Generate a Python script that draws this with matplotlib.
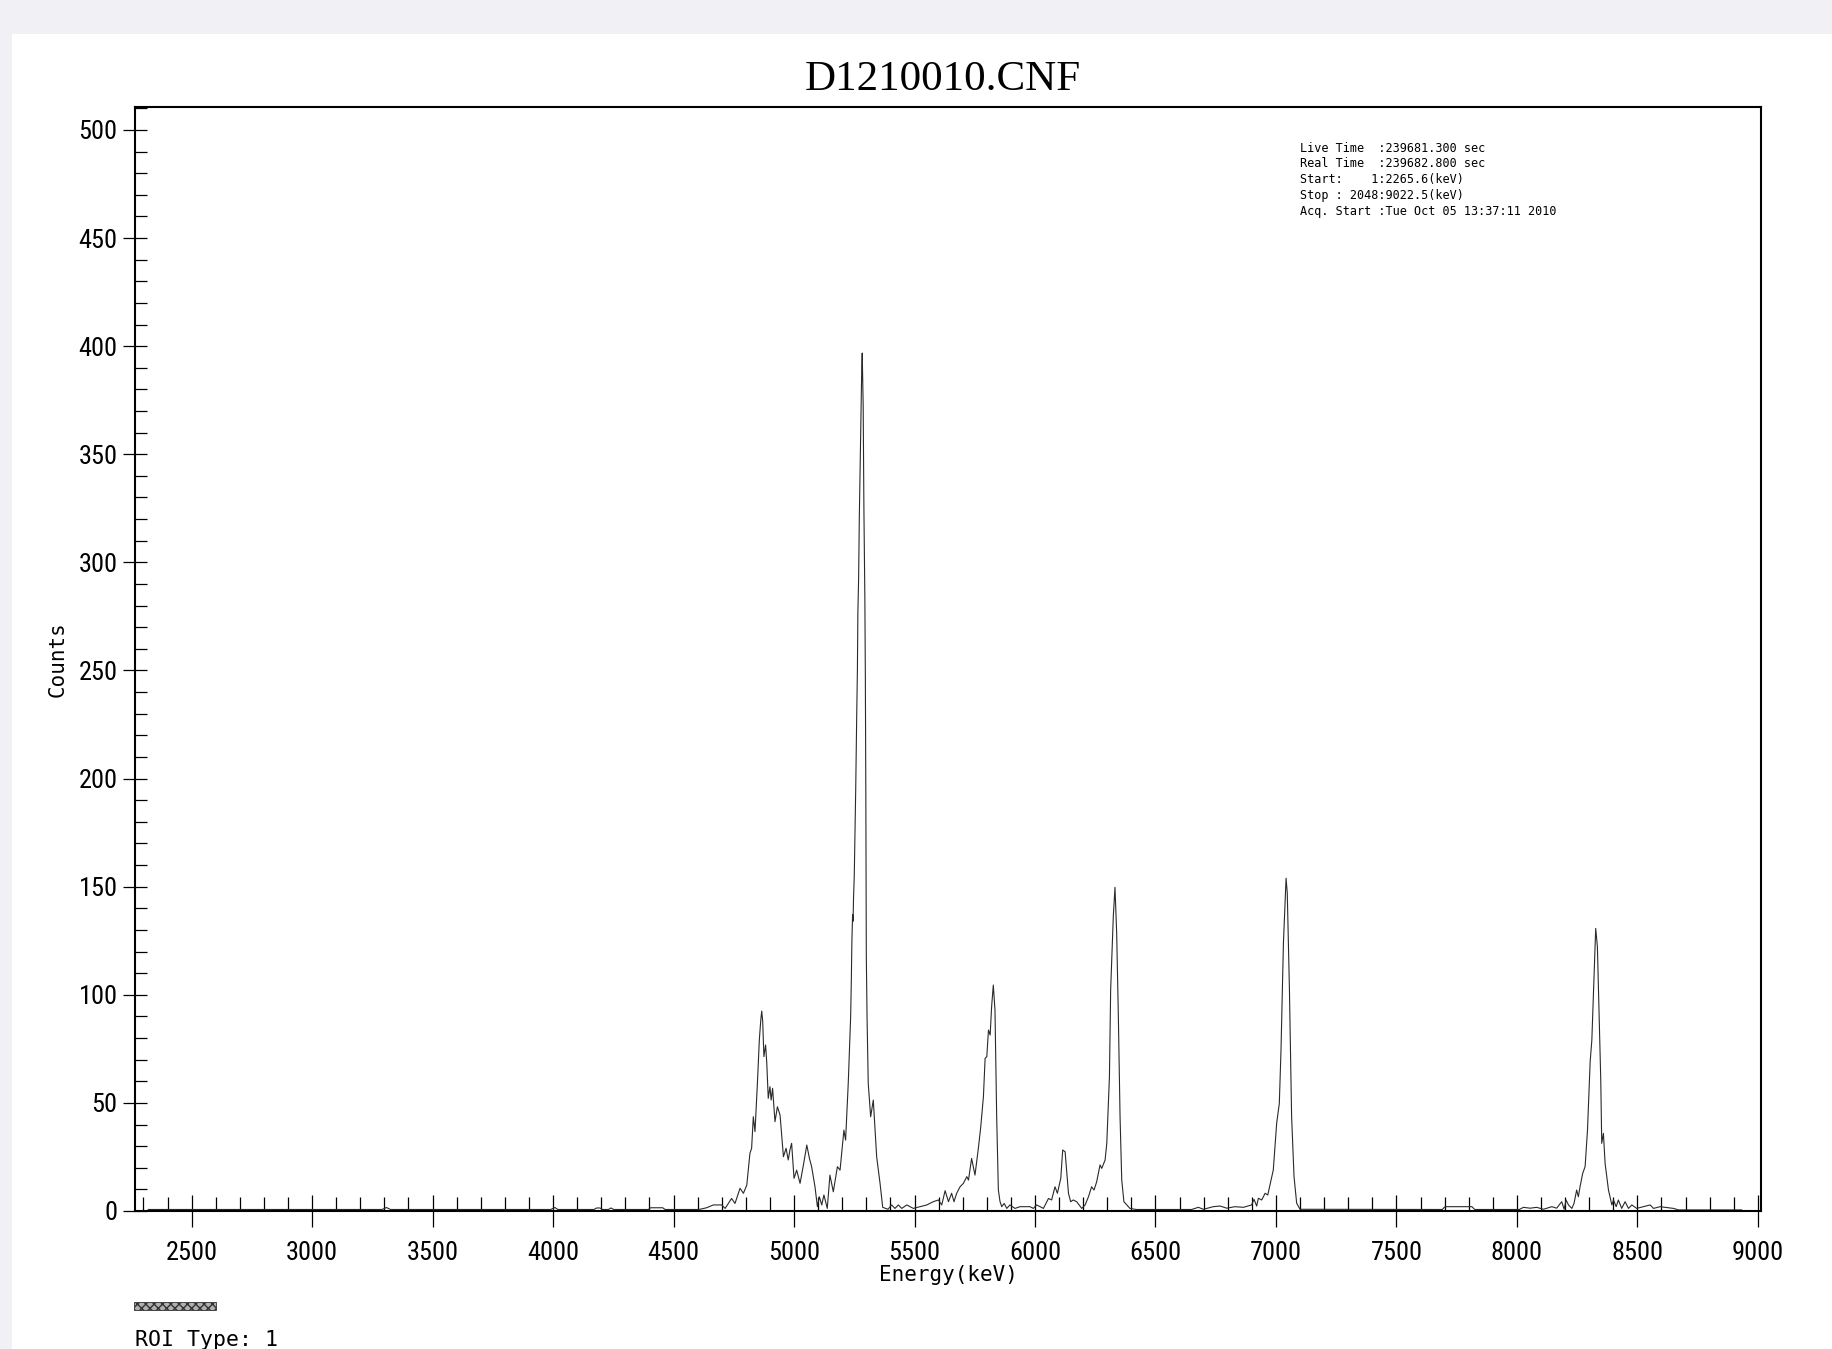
import numpy as np
import matplotlib
matplotlib.use("Agg")
import matplotlib.pyplot as plt
from matplotlib import font_manager
from matplotlib.ticker import MultipleLocator
from matplotlib.patches import Rectangle

# spectrum: energy (keV) and counts
energy = [2320, 3290, 3309, 3325, 3990, 4008, 4020, 4170, 4181, 4195, 4205,
          4230, 4240, 4252, 4395, 4405, 4455, 4465, 4600, 4610, 4637, 4665,
          4700, 4714, 4741, 4755, 4776, 4790, 4804, 4817, 4824, 4831, 4838,
          4848, 4856, 4862, 4866, 4870, 4875, 4882, 4887, 4893, 4900, 4905,
          4911, 4921, 4931, 4942, 4956, 4967, 4976, 4983, 4990, 5000, 5011,
          5025, 5039, 5053, 5064, 5073, 5087, 5097, 5105, 5115, 5124, 5138,
          5149, 5163, 5180, 5191, 5207, 5214,
          5225, 5235, 5238, 5240, 5243, 5245, 5247, 5250, 5253, 5256,
          5258, 5260, 5263, 5265, 5268, 5271, 5277, 5281, 5283, 5287,
          5290, 5294, 5296, 5298, 5299, 5300, 5303, 5308,
          5318, 5329, 5343,
          5357, 5368, 5390, 5405, 5419, 5433, 5447, 5468, 5495, 5523, 5551,
          5578, 5599, 5613, 5627, 5641, 5654, 5664, 5675, 5689, 5703, 5717,
          5724, 5737, 5751, 5765, 5775, 5786, 5793, 5800, 5807, 5814, 5820,
          5827, 5834, 5841, 5848, 5855, 5862, 5872, 5883, 5896, 5917, 5938,
          5979, 5993, 6007, 6035, 6056, 6069, 6083, 6093, 6107, 6115, 6125,
          6139, 6148, 6159, 6173, 6194, 6208, 6222, 6235, 6245, 6256, 6270,
          6277, 6291, 6298, 6309, 6314, 6325, 6332, 6339, 6346, 6353, 6360,
          6369, 6394, 6420, 6650, 6678, 6699, 6740, 6768, 6796, 6830, 6865, 6899,
          6909, 6920, 6927, 6941, 6955, 6966, 6975, 6989, 7003, 7014, 7021,
          7031, 7042, 7047, 7056, 7065, 7075, 7086, 7100, 7690, 7702, 7813,
          7825, 8010, 8027, 8055, 8082, 8110, 8145, 8165, 8186, 8196, 8204,
          8214, 8228, 8237, 8248, 8255, 8262, 8273, 8283, 8293, 8304, 8311,
          8318, 8327, 8334, 8341, 8348, 8352, 8359, 8366, 8380, 8394, 8401,
          8412, 8421, 8435, 8449, 8463, 8477, 8497, 8525, 8553, 8567, 8594,
          8650, 8670, 8933]
counts = [0.7, 0.7, 1.6, 0.7, 0.7, 1.6, 0.7, 0.7, 1.4, 1.4, 0.7,
          0.7, 1.4, 0.7, 0.7, 1.5, 1.5, 0.7, 0.7, 0.8, 1.5, 2.8,
          2.8, 1.2, 5.8, 3.5, 10.5, 8.2, 12.0, 26.7, 29.0, 43.6, 36.7,
          59.0, 79.1, 88.3, 92.5, 87.6, 71.4, 76.8, 68.3, 52.1, 57.5, 51.3,
          56.7, 41.3, 48.2, 44.4, 25.1, 29.0, 23.6, 28.2, 31.3, 15.1, 18.9,
          12.8, 21.3, 30.5, 24.3, 20.5, 11.2, 2.0, 6.6, 2.8, 7.4, 1.2,
          16.6, 8.9, 20.5, 18.9, 37.4, 32.8,
          59.0, 89.9, 108, 124, 137, 134, 145, 155, 175, 195,
          212, 228, 250, 277, 292, 321, 362, 389.5, 396.8, 372.4,
          324.8, 282.9, 247, 192, 150, 118, 90, 59,
          43.6, 51.3, 25,
          12.8, 1.7, 0.8, 2.8, 1.2, 2.8, 1.2, 2.8, 1.2, 2.0, 2.8,
          4.3, 5.1, 2.8, 9.4, 4.3, 8.2, 4.3, 8.2, 11.2, 12.8, 15.9,
          14.3, 24.3, 16.6, 29.0, 39.0, 52.9, 70.6, 71.4, 83.7, 81.4, 94.5,
          104.5, 92.9, 43.6, 9.7, 4.3, 2.0, 3.5, 1.2, 2.8, 1.2, 2.0,
          2.0, 1.2, 2.8, 1.2, 5.8, 5.1, 11.2, 8.2, 15.1, 28.2, 27.4,
          8.2, 4.3, 5.1, 4.3, 1.2, 2.8, 6.6, 11.2, 9.7, 13.5, 21.3,
          19.7, 23.6, 31.3, 62.2, 102.2, 136.2, 149.7, 128.5, 89.9, 43.7, 14.4,
          4.3, 1.2, 0.7, 0.7, 1.7, 0.8, 2.0, 2.3, 1.3, 2.0, 1.7, 2.8,
          5.4, 2.3, 5.9, 5.1, 8.2, 7.4, 12.0, 19.0, 40.6, 49.8, 74.5,
          123.8, 153.9, 147.0, 102.2, 43.7, 15.9, 3.6, 0.8, 0.7, 2.0, 2.0,
          0.7, 0.7, 1.7, 1.3, 1.7, 0.8, 2.0, 1.3, 4.3, 0.8, 5.1,
          2.8, 1.2, 3.5, 9.7, 6.6, 11.2, 17.4, 20.5, 37.5, 69.1, 79.1,
          102.2, 130.7, 122.3, 91.4, 60.6, 31.3, 35.9, 22.0, 9.7, 2.8, 5.1,
          2.0, 5.1, 1.2, 4.3, 1.2, 2.8, 1.2, 2.0, 2.8, 1.2, 2.0,
          1.2, 0.5, 0.5]

x_range = (2265, 9013)
y_range = (0, 510.6)
x_major = 500
x_minor = 100
y_major = 50
y_minor = 10

title = "D1210010.CNF"
info_lines = ["Live Time  :239681.300 sec",
              "Real Time  :239682.800 sec",
              "Start:    1:2265.6(keV)",
              "Stop : 2048:9022.5(keV)",
              "Acq. Start :Tue Oct 05 13:37:11 2010"]


def pick_font(names):
    for n in names:
        try:
            font_manager.findfont(font_manager.FontProperties(family=n),
                                  fallback_to_default=False)
            return n
        except ValueError:
            pass
    return "DejaVu Sans"


narrow = pick_font(["Liberation Sans Narrow", "DejaVu Sans Condensed",
                    "Roboto Condensed", "Liberation Sans"])
serif = pick_font(["Liberation Serif", "DejaVu Serif"])
mono = "DejaVu Sans Mono"

W, H = 1833, 1349
fig = plt.figure(figsize=(W / 100, H / 100), dpi=100, facecolor="#f0f0f5")
fig.add_artist(Rectangle((12 / W, 0), 1 - 12 / W, 1 - 34 / H,
                         transform=fig.transFigure, facecolor="white",
                         edgecolor="none", zorder=0))

ax = fig.add_axes([135 / W, 1 - 1211 / H, (1761 - 135) / W, (1211 - 107) / H])
ax.plot(energy, counts, color="#2a2a2a", linewidth=0.8)

ax.set_xlim(*x_range)
ax.set_ylim(*y_range)
ax.xaxis.set_major_locator(MultipleLocator(x_major))
ax.xaxis.set_minor_locator(MultipleLocator(x_minor))
ax.yaxis.set_major_locator(MultipleLocator(y_major))
ax.yaxis.set_minor_locator(MultipleLocator(y_minor))

ax.tick_params(axis="x", which="major", direction="inout", length=23,
               width=0.9, pad=10, labelsize=19)
ax.tick_params(axis="x", which="minor", direction="in", length=10, width=0.9)
ax.tick_params(axis="y", which="major", direction="inout", length=17,
               width=0.9, pad=4, labelsize=19)
ax.tick_params(axis="y", which="minor", direction="in", length=8.5, width=0.9)
for lab in ax.get_xticklabels() + ax.get_yticklabels():
    lab.set_family(narrow)

for s in ax.spines.values():
    s.set_linewidth(1.5)

ax.set_title(title, family=serif, fontsize=31, pad=12, x=0.497)
ax.set_xlabel("Energy(keV)", family=mono, fontsize=15, labelpad=0)
ax.set_ylabel("Counts", family=mono, fontsize=15, labelpad=8)

for i, line in enumerate(info_lines):
    fig.text(1300 / W, 1 - (148 + i * 15.8) / H, line, family=mono,
             fontsize=8.5, va="center", ha="left")

fig.add_artist(Rectangle((134 / W, 1 - 1310 / H), 82 / W, 8 / H,
                         transform=fig.transFigure, facecolor="#b0b0b0",
                         edgecolor="#333333", hatch="xxxx", linewidth=0.6))
fig.text(135 / W, 1 - 1346 / H, "ROI Type: 1", family=mono, fontsize=15.5,
         va="baseline", ha="left")

fig.savefig("out.png", dpi=100, facecolor=fig.get_facecolor())
